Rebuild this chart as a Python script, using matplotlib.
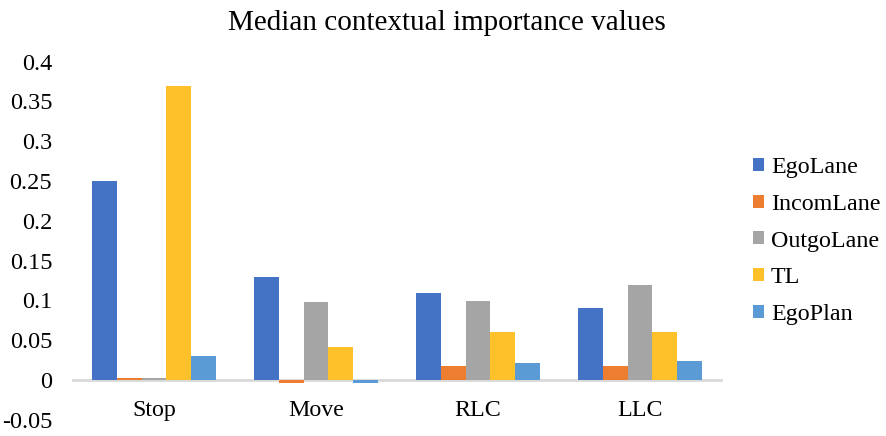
# Median contextual importance values, grouped bars per manoeuvre.

import numpy as np
import matplotlib
matplotlib.use("Agg")
import matplotlib.pyplot as plt

plt.rcParams['font.family'] = ['Liberation Serif', 'DejaVu Serif']

categories = ["Stop", "Move", "RLC", "LLC"]
series = ["EgoLane", "IncomLane", "OutgoLane", "TL", "EgoPlan"]

egoLane = [0.250, 0.130, 0.109, 0.091]
incomLane = [0.002, -0.004, 0.017, 0.018]
outgoLane = [0.002, 0.098, 0.099, 0.119]
tl = [0.370, 0.042, 0.060, 0.060]
egoPlan = [0.030, -0.004, 0.021, 0.024]

values = [egoLane, incomLane, outgoLane, tl, egoPlan]
colors = ["#4472C4", "#ED7D31", "#A5A5A5", "#FFC12A", "#5B9BD5"]

yticks = [-0.05, 0, 0.05, 0.1, 0.15, 0.2, 0.25, 0.3, 0.35, 0.4]
ytickLabels = ["-0.05", "0", "0.05", "0.1", "0.15", "0.2", "0.25", "0.3", "0.35", "0.4"]

fig = plt.figure(figsize=(8.86, 4.36), dpi=100)
ax = fig.add_axes([73/886, 1-419.75/436, (721-73)/886, (419.75-61.7)/436])

x = np.arange(len(categories))
width = 0.154
for i in range(len(series)):
    ax.bar(x + (i-2)*width, values[i], width, color=colors[i], label=series[i], zorder=2)

ax.set_xlim(-0.5, 3.5)
ax.set_ylim(-0.05, 0.4)
ax.set_yticks(yticks)
ax.set_yticklabels(ytickLabels)
ax.set_xticks(x)
ax.set_xticklabels(categories)

for s in ["left", "right", "top"]:
    ax.spines[s].set_visible(False)
ax.spines["bottom"].set_position(("data", 0))
ax.spines["bottom"].set_color("#D9D9D9")
ax.spines["bottom"].set_linewidth(2)
ax.spines["bottom"].set_zorder(1)

ax.tick_params(axis="y", length=0, pad=15, labelsize=17.5)
ax.tick_params(axis="x", length=0, pad=14.5, labelsize=17.3)

fig.text(447/886, 1-23/436, "Median contextual importance values", ha="center", va="center", fontsize=21)

fig.legend(loc="center left", bbox_to_anchor=(753/886, 1-241/436), frameon=False,
           fontsize=17.3, handlelength=0.45, handleheight=0.45, handletextpad=0.3,
           labelspacing=0.65, borderaxespad=0, borderpad=0)

plt.savefig("out.png", dpi=100)
